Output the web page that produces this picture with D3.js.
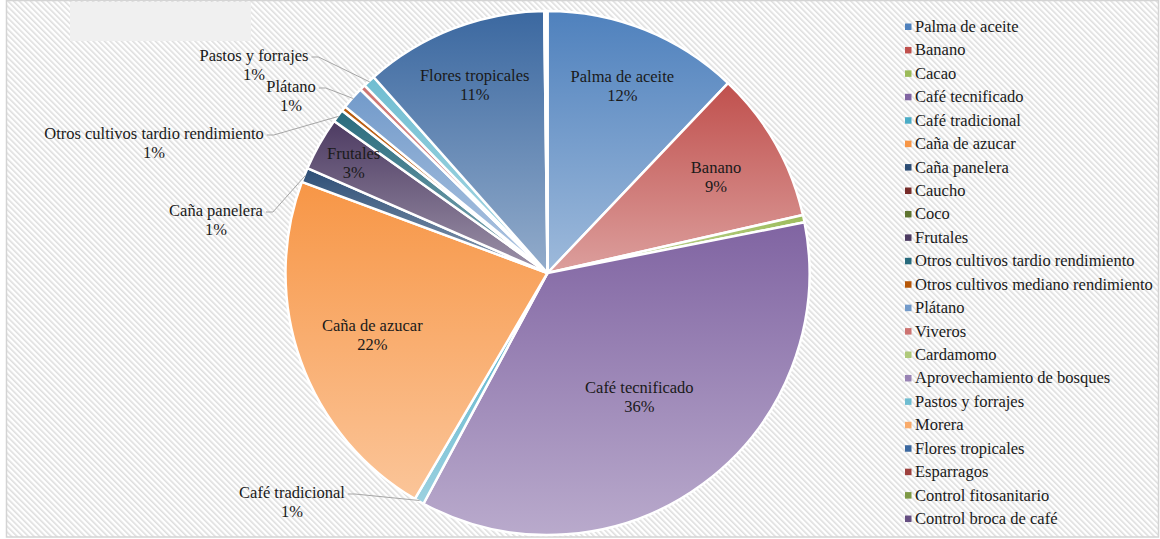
<!DOCTYPE html>
<html>
<head>
<meta charset="utf-8">
<script src="https://cdn.jsdelivr.net/npm/d3@7"></script>
<style>
  html, body { margin: 0; padding: 0; background: #ffffff; }
  svg { display: block; }
</style>
</head>
<body>
<svg id="chart" width="1160" height="539"></svg>
<script>
// ---- data ----
const categories = [
  "Palma de aceite", "Banano", "Cacao", "Café tecnificado", "Café tradicional",
  "Caña de azucar", "Caña panelera", "Caucho", "Coco", "Frutales",
  "Otros cultivos tardio rendimiento", "Otros cultivos mediano rendimiento",
  "Plátano", "Viveros", "Cardamomo", "Aprovechamiento de bosques",
  "Pastos y forrajes", "Morera", "Flores tropicales", "Esparragos",
  "Control fitosanitario", "Control broca de café"
];
const shares = [
  12.1, 9.35, 0.45, 35.95, 0.6,
  22.2, 0.9, 0, 0, 3.3,
  0.8, 0.3,
  1.4, 0.35, 0, 0,
  0.75, 0, 11.35, 0.1,
  0.05, 0.05
];
const colors = [
  "#4F81BD", "#C0504D", "#9BBB59", "#8064A2", "#4BACC6",
  "#F79646", "#2C4D75", "#772C2A", "#5F7530", "#4D3B62",
  "#276A7C", "#B65708",
  "#729ACA", "#CD7371", "#AFC97A", "#9983B5",
  "#6FBDD1", "#F9AB6B", "#3B68A0", "#9E413E",
  "#7E9945", "#664F82"
];
const labelledInside = ["Palma de aceite", "Banano", "Café tecnificado", "Caña de azucar", "Frutales", "Flores tropicales"];
const labelledOutside = ["Pastos y forrajes", "Plátano", "Otros cultivos tardio rendimiento", "Caña panelera", "Café tradicional"];

// ---- layout (not data) ----
const W = 1160, H = 539;
const cx = 547.5, cy = 273, R = 262;
const FONT = "Liberation Serif";
const FS = 16.5;
const insideRadius = {
  "Palma de aceite": 0.77, "Banano": 0.74, "Café tecnificado": 0.59,
  "Caña de azucar": 0.71, "Frutales": 0.85, "Flores tropicales": 0.77
};
const outsideLabelPos = {
  "Pastos y forrajes": [254, 56],
  "Plátano": [291, 87],
  "Otros cultivos tardio rendimiento": [154, 134],
  "Caña panelera": [216, 211],
  "Café tradicional": [292, 493]
};

const data = categories.map((c, i) => ({ name: c, value: shares[i], color: colors[i] }));
const total = d3.sum(shares);

const svg = d3.select("#chart");
const defs = svg.append("defs");

const pat = defs.append("pattern")
  .attr("id", "hatch").attr("patternUnits", "userSpaceOnUse")
  .attr("width", 4).attr("height", 4)
  .attr("patternTransform", "rotate(-45)");
pat.append("rect").attr("width", 4).attr("height", 4).attr("fill", "#ffffff");
pat.append("rect").attr("width", 1.6).attr("height", 4).attr("fill", "#dedede");

svg.append("rect").attr("x", 0).attr("y", 0).attr("width", W).attr("height", H).attr("fill", "#ffffff");
svg.append("rect")
  .attr("x", 6.5).attr("y", 0.5).attr("width", W - 8).attr("height", H - 2.5)
  .attr("fill", "url(#hatch)").attr("stroke", "#d4d4d4").attr("stroke-width", 1.5);

svg.append("rect").attr("x", 70).attr("y", 2).attr("width", 181).attr("height", 39).attr("fill", "#f0f0f0");

data.forEach((d, i) => {
  const g = defs.append("linearGradient").attr("id", "grad" + i)
    .attr("x1", 0).attr("y1", 0).attr("x2", 0).attr("y2", 1);
  g.append("stop").attr("offset", "0%").attr("stop-color", d.color);
  g.append("stop").attr("offset", "100%").attr("stop-color", d3.interpolateRgb(d.color, "#ffffff")(0.45));
});

const pie = d3.pie().sort(null).value(d => d.value).startAngle(0).endAngle(2 * Math.PI);
const arcs = pie(data);
const arc = d3.arc().innerRadius(0).outerRadius(R);

const g = svg.append("g").attr("transform", `translate(${cx},${cy})`);
g.selectAll("path.slice")
  .data(arcs.filter(a => a.value > 0))
  .join("path")
  .attr("class", "slice")
  .attr("d", arc)
  .attr("fill", d => "url(#grad" + categories.indexOf(d.data.name) + ")")
  .attr("stroke", "#ffffff")
  .attr("stroke-width", 2.5)
  .attr("stroke-linejoin", "round");

const pct = v => Math.round(v / total * 100) + "%";
const txtColor = "#1a1a1a";

function label(x, y, a) {
  const t = svg.append("text").attr("text-anchor", "middle")
    .attr("font-family", FONT).attr("font-size", FS).attr("fill", txtColor);
  t.append("tspan").attr("x", x).attr("y", y).text(a.data.name);
  t.append("tspan").attr("x", x).attr("y", y + 19).text(pct(a.value));
  return t;
}

arcs.filter(a => labelledInside.includes(a.data.name)).forEach(a => {
  const mid = (a.startAngle + a.endAngle) / 2;
  const rr = R * insideRadius[a.data.name];
  const x = cx + rr * Math.sin(mid), y = cy - rr * Math.cos(mid);
  label(x, y - 4, a);
});

arcs.filter(a => labelledOutside.includes(a.data.name)).forEach(a => {
  const [lx, ly] = outsideLabelPos[a.data.name];
  const mid = (a.startAngle + a.endAngle) / 2;
  const ex = cx + (R - 1) * Math.sin(mid), ey = cy - (R - 1) * Math.cos(mid);
  const t = label(lx, ly + 5, a);
  const w = t.select("tspan").node().getComputedTextLength();
  const sx = lx + w / 2 + 3;
  const sy = ly + 1;
  svg.append("polyline")
    .attr("points", `${sx},${sy} ${sx + 7},${sy} ${ex},${ey}`)
    .attr("fill", "none").attr("stroke", "#a6a6a6").attr("stroke-width", 1);
});

const ly0 = 27, lstep = 23.43;
const leg = svg.append("g");
data.forEach((d, i) => {
  const y = ly0 + i * lstep;
  leg.append("rect").attr("x", 905).attr("y", y - 3.5).attr("width", 6.5).attr("height", 6.5).attr("fill", d.color);
  leg.append("text").attr("x", 915).attr("y", y + 5)
    .attr("font-family", FONT).attr("font-size", FS).attr("fill", txtColor).text(d.name);
});
</script>
</body>
</html>
